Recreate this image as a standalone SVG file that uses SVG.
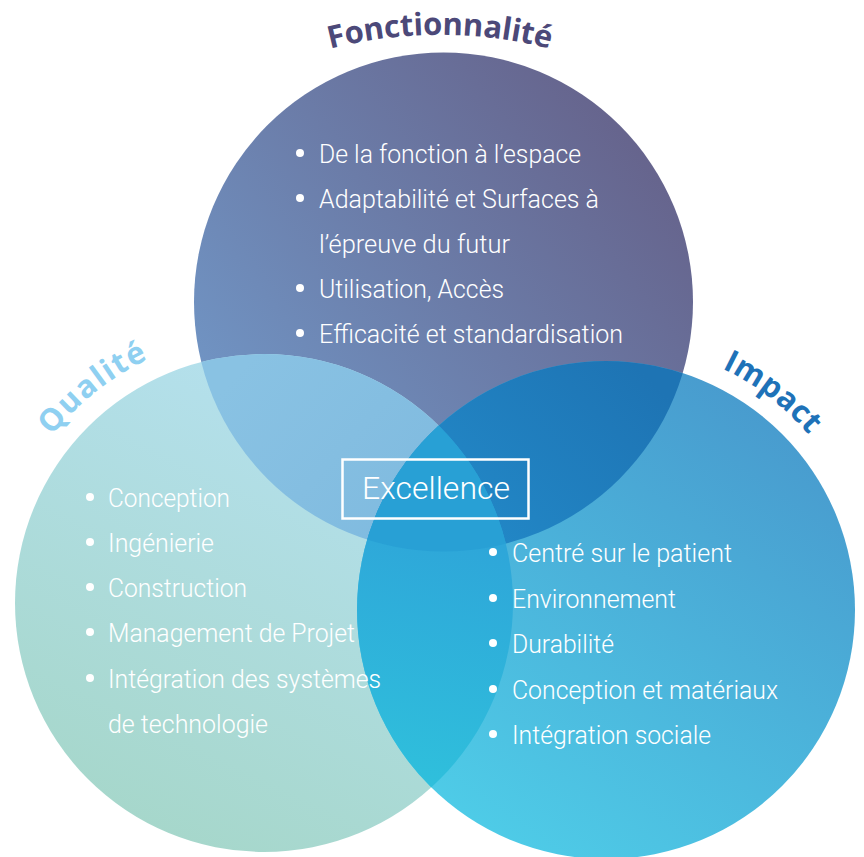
<svg xmlns="http://www.w3.org/2000/svg" width="864" height="857" viewBox="0 0 864 857">
<defs>
<linearGradient id="gT" gradientUnits="userSpaceOnUse" x1="680" y1="110" x2="220" y2="470"><stop offset="0" stop-color="#655f87"/><stop offset="1" stop-color="#7198c8"/></linearGradient>
<linearGradient id="gL" gradientUnits="userSpaceOnUse" x1="390" y1="380" x2="170" y2="840"><stop offset="0" stop-color="#b6e1f0"/><stop offset="1" stop-color="#a6d7cb"/></linearGradient>
<linearGradient id="gR" gradientUnits="userSpaceOnUse" x1="830" y1="400" x2="520" y2="850"><stop offset="0" stop-color="#4897cc"/><stop offset="1" stop-color="#4ecbe7"/></linearGradient>
<linearGradient id="gTL" gradientUnits="userSpaceOnUse" x1="240" y1="370" x2="430" y2="540"><stop offset="0" stop-color="#89c2e3"/><stop offset="1" stop-color="#7fbadf"/></linearGradient>
<linearGradient id="gTR" gradientUnits="userSpaceOnUse" x1="640" y1="370" x2="470" y2="540"><stop offset="0" stop-color="#1e74b4"/><stop offset="1" stop-color="#2288c7"/></linearGradient>
<linearGradient id="gLR" gradientUnits="userSpaceOnUse" x1="480" y1="540" x2="420" y2="790"><stop offset="0" stop-color="#2ea6d9"/><stop offset="1" stop-color="#2fc0dc"/></linearGradient>
<clipPath id="cT"><circle cx="443.5" cy="302" r="249.5"/></clipPath>
<clipPath id="cL"><circle cx="264" cy="603" r="249"/></clipPath>
<path id="arcF" d="M 200 106 A 440 440 0 0 1 680 106"/>
<path id="arcQ" d="M 10.3 510.7 A 270 270 0 0 1 264 333"/>
<path id="arcI" d="M 606 342 A 268 268 0 0 1 869.9 563.5"/>
<style>
.body{font-family:Roboto,"Open Sans","Liberation Sans",sans-serif;font-weight:300;font-size:26px;fill:#ffffff}
.title{font-family:"Open Sans","Liberation Sans",sans-serif;font-weight:700;font-size:31px}
.dot{fill:#ffffff}
</style>
</defs>
<rect width="864" height="857" fill="#ffffff"/>
<g id="circle-fonctionnalite"><circle cx="443.5" cy="302" r="249.5" fill="url(#gT)"/></g>
<g id="circle-qualite"><circle cx="264" cy="603" r="249" fill="url(#gL)"/></g>
<g id="circle-impact"><circle cx="606" cy="610" r="249" fill="url(#gR)"/></g>
<g id="overlaps">
<g clip-path="url(#cT)"><circle cx="264" cy="603" r="249" fill="url(#gTL)"/><circle cx="606" cy="610" r="249" fill="url(#gTR)"/></g>
<g clip-path="url(#cL)"><circle cx="606" cy="610" r="249" fill="url(#gLR)"/></g>
<g clip-path="url(#cT)"><g clip-path="url(#cL)"><circle cx="606" cy="610" r="249" fill="#28a0d5"/></g></g>
</g>
<g id="connectors"/>
<g id="title-fonctionnalite"><text class="title" fill="#4c4979" text-anchor="middle"><textPath href="#arcF" startOffset="50%" textLength="222" lengthAdjust="spacing">Fonctionnalité</textPath></text></g>
<g id="title-qualite"><text class="title" fill="#8fd0f1" text-anchor="middle"><textPath href="#arcQ" startOffset="148" textLength="124" lengthAdjust="spacing">Qualité</textPath></text></g>
<g id="title-impact"><text class="title" fill="#1e72b8" text-anchor="middle"><textPath href="#arcI" startOffset="175" textLength="110" lengthAdjust="spacing">Impact</textPath></text></g>
<g id="list-fonctionnalite">
<circle class="dot" cx="300" cy="153" r="4"/><text class="body" x="319" y="163" textLength="262" lengthAdjust="spacingAndGlyphs">De la fonction à l’espace</text>
<circle class="dot" cx="300" cy="198" r="4"/><text class="body" x="319" y="208" textLength="280" lengthAdjust="spacingAndGlyphs">Adaptabilité et Surfaces à</text>
<text class="body" x="319" y="253" textLength="191" lengthAdjust="spacingAndGlyphs">l’épreuve du futur</text>
<circle class="dot" cx="300" cy="288" r="4"/><text class="body" x="319" y="298" textLength="185" lengthAdjust="spacingAndGlyphs">Utilisation, Accès</text>
<circle class="dot" cx="300" cy="333" r="4"/><text class="body" x="319" y="343" textLength="304" lengthAdjust="spacingAndGlyphs">Efficacité et standardisation</text>
</g>
<g id="list-qualite">
<circle class="dot" cx="90" cy="497" r="4"/><text class="body" x="108" y="507" textLength="122" lengthAdjust="spacingAndGlyphs">Conception</text>
<circle class="dot" cx="90" cy="542" r="4"/><text class="body" x="108" y="552" textLength="106" lengthAdjust="spacingAndGlyphs">Ingénierie</text>
<circle class="dot" cx="90" cy="587" r="4"/><text class="body" x="108" y="597" textLength="139" lengthAdjust="spacingAndGlyphs">Construction</text>
<circle class="dot" cx="90" cy="632" r="4"/><text class="body" x="108" y="642" textLength="247" lengthAdjust="spacingAndGlyphs">Management de Projet</text>
<circle class="dot" cx="90" cy="678" r="4"/><text class="body" x="108" y="688" textLength="273" lengthAdjust="spacingAndGlyphs">Intégration des systèmes</text>
<text class="body" x="108" y="733" textLength="160" lengthAdjust="spacingAndGlyphs">de technologie</text>
</g>
<g id="list-impact">
<circle class="dot" cx="493" cy="552" r="4"/><text class="body" x="512" y="562" textLength="220" lengthAdjust="spacingAndGlyphs">Centré sur le patient</text>
<circle class="dot" cx="493" cy="598" r="4"/><text class="body" x="512" y="608" textLength="164" lengthAdjust="spacingAndGlyphs">Environnement</text>
<circle class="dot" cx="493" cy="643" r="4"/><text class="body" x="512" y="653" textLength="102" lengthAdjust="spacingAndGlyphs">Durabilité</text>
<circle class="dot" cx="493" cy="689" r="4"/><text class="body" x="512" y="699" textLength="266" lengthAdjust="spacingAndGlyphs">Conception et matériaux</text>
<circle class="dot" cx="493" cy="734" r="4"/><text class="body" x="512" y="744" textLength="199" lengthAdjust="spacingAndGlyphs">Intégration sociale</text>
</g>
<g id="excellence">
<rect x="342.5" y="459.5" width="186" height="59" fill="none" stroke="#ffffff" stroke-width="2.5"/>
<text class="body" x="362" y="499" textLength="148" lengthAdjust="spacingAndGlyphs" style="font-size:31px">Excellence</text>
</g>
</svg>
